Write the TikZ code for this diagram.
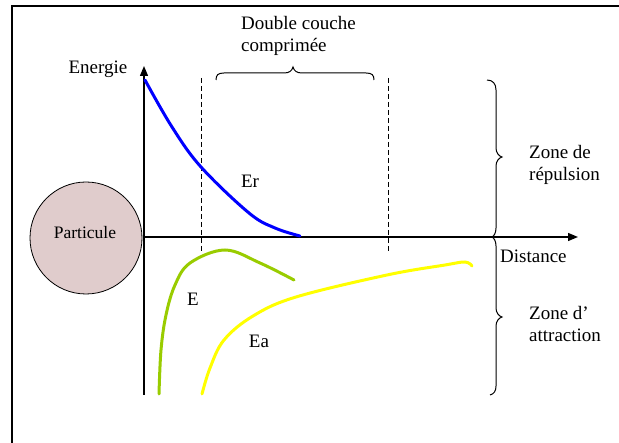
\documentclass[tikz,border=0pt]{standalone}
\usepackage{fontspec}
\setmainfont{Liberation Serif}
\usetikzlibrary{arrows.meta}
\definecolor{partfill}{RGB}{224,204,204}
\definecolor{egreen}{RGB}{153,204,0}
\definecolor{eyellow}{RGB}{255,255,0}
\definecolor{eblue}{RGB}{0,0,255}
\tikzset{
  lbl/.style={font=\fontsize{19}{22}\selectfont, inner sep=0pt},
  axisline/.style={line width=1.3pt, -{Triangle[length=10pt,width=8pt]}},
  bracestyle/.style={line width=1pt},
  curve/.style={line width=3pt, line cap=round},
  guide/.style={dashed, line width=0.8pt, dash pattern=on 5pt off 3pt}
}
\begin{document}
\begin{tikzpicture}[x=1pt,y=-1pt]
\useasboundingbox (0,0) rectangle (619,443);
% frame
\draw[line width=2pt] (12,443) -- (12,6) -- (619,6);
% particle
\node[circle, draw, line width=0.8pt, fill=partfill, minimum size=112pt, inner sep=0pt] (part) at (86,238) {};
\node[lbl, font=\fontsize{17.5}{20}\selectfont] (partlbl) at (85,233) {Particule};
% axes
\coordinate (O) at (144,237);
\coordinate (ybot) at (144,395);
\coordinate (ytop) at (144,66);
\coordinate (xend) at (578,237);
\draw[line width=1.3pt] (ybot) -- (O);
\draw[axisline] (O) -- (ytop);
\draw[axisline] (O) -- (xend);
\node[lbl] (energie) at (98,69) {Energie};
\node[lbl, anchor=west] (distance) at (500,256) {Distance};
% dashed guides
\coordinate (d1t) at (201,78); \coordinate (d1b) at (201,252);
\coordinate (d2t) at (388,78); \coordinate (d2b) at (388,252);
\draw[guide] (d1t) -- (d1b);
\draw[guide] (d2t) -- (d2b);
% top brace
\draw[bracestyle] (216,80) .. controls (216,75) and (218,73) .. (224,73) -- (284,73)
  .. controls (289,73) and (292,71) .. (293,67)
  .. controls (294,71) and (297,73) .. (302,73) -- (366,73)
  .. controls (372,73) and (374,75) .. (374,80);
\node[lbl, align=left, anchor=west] (dc) at (241,36) {Double couche\\comprimée};
% right braces
\draw[bracestyle] (487,80) .. controls (493,80) and (496,84) .. (496,90) -- (496,148)
  .. controls (496,153) and (499,156) .. (502,157)
  .. controls (499,158) and (496,161) .. (496,166) -- (496,228)
  .. controls (496,233) and (494,236) .. (492,237);
\draw[bracestyle] (492,237) .. controls (494,238) and (496,241) .. (496,246) -- (496,308)
  .. controls (496,313) and (499,316) .. (502,317)
  .. controls (499,318) and (496,321) .. (496,326) -- (496,386)
  .. controls (496,391) and (494,394) .. (490,395);
\node[lbl, align=left, anchor=west] (zr) at (529,165) {Zone de\\répulsion};
\node[lbl, align=left, anchor=west] (za) at (529,324) {Zone d’\\attraction};
% curves
\draw[curve, eblue] plot[smooth, tension=0.6] coordinates {(145,80) (172,127) (201,167) (249,213) (275,228) (300,236)};
\draw[curve, egreen] plot[smooth, tension=0.6] coordinates {(159,394) (161,350) (166,315) (175,285) (190,263) (225,250) (260,263) (294,280)};
\draw[curve, eyellow] plot[smooth, tension=0.6] coordinates {(202,394) (210,368) (224,340) (253,316) (296,297) (387,275) (445,265) (465,262) (472,266)};
\node[lbl] (er) at (250,181) {Er};
\node[lbl] (e) at (193,299) {E};
\node[lbl] (ea) at (259,341) {Ea};
\end{tikzpicture}
\end{document}
